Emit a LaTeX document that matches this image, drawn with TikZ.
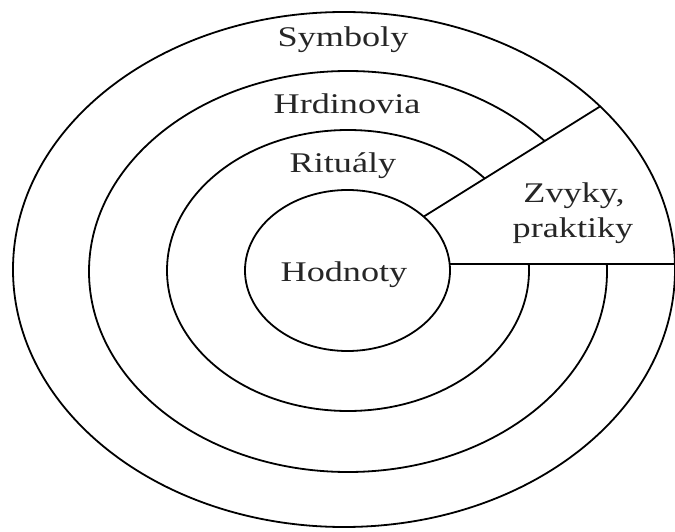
\documentclass[tikz,border=0pt]{standalone}
\usepackage{fontspec}
\newfontfamily\labelfont[FakeStretch=1.27]{Liberation Serif}
\usetikzlibrary{calc}
\tikzset{
  ring/.style={draw=black, line width=1.8pt},
  sep/.style={draw=black, line width=1.8pt},
  lbl/.style={font=\labelfont\fontsize{28.5}{35}\selectfont, text=black!85, anchor=base, inner sep=0pt, align=center}
}
\begin{document}
\begin{tikzpicture}[x=1pt, y=-1pt]
\useasboundingbox (0,0) rectangle (675,532);
\fill[white] (0,0) rectangle (675,532);
% centers
\coordinate (c1) at (344,269.5);
\coordinate (c2) at (348,271.5);
\coordinate (c3) at (348,270.5);
\coordinate (c4) at (347.5,270.5);
% separator end points
\coordinate (d1) at ($(c4)+({102.5*cos(42)},{-80.5*sin(42)})$);
\coordinate (d2) at ($(c1)+({331*cos(39.3)},{-257.5*sin(39.3)})$);
\coordinate (h1) at ($(c4)+({102.5*cos(4.6)},{-80.5*sin(4.6)})$);
\coordinate (h2) at (676,264);
% middle rings (interrupted by the sector)
\draw[ring] (c2) ellipse [x radius=259, y radius=200.5];
\draw[ring] (c3) ellipse [x radius=181, y radius=140.5];
% blank the sector "Zvyky, praktiky"
\fill[white] (d1) -- ($(d1)!1.3!(d2)$) -- (720,40) -- (720,264) -- (h1) -- cycle;
% inner and outer rings
\draw[ring] (c1) ellipse [x radius=331, y radius=257.5];
\draw[ring] (c4) ellipse [x radius=102.5, y radius=80.5];
% separators
\draw[sep] (d1) -- (d2);
\draw[sep] (h1) -- (h2);
% labels
\node[lbl] (sym) at (343,47) {Symboly};
\node[lbl] (hrd) at (347,114) {Hrdinovia};
\node[lbl] (rit) at (343,173) {Rituály};
\node[lbl] (hod) at (344,281) {Hodnoty};
\node[lbl] (zvy) at (574,202) {Zvyky,};
\node[lbl] (pra) at (573,237) {praktiky};
\end{tikzpicture}
\end{document}
